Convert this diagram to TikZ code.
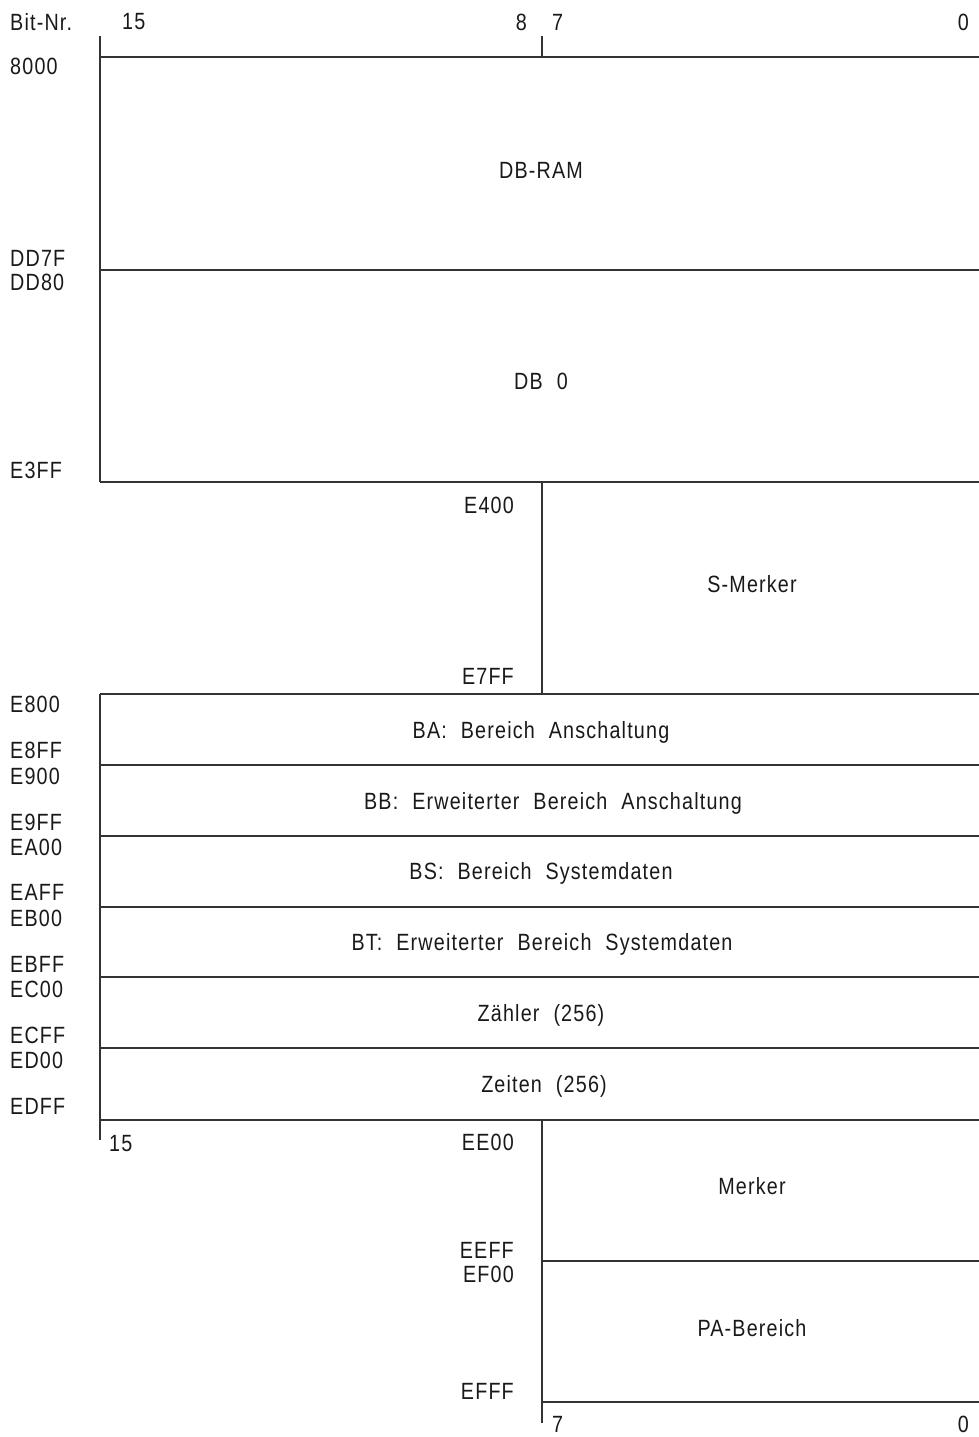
\documentclass[tikz,border=0pt]{standalone}
\usepackage{fontspec}
\setmainfont{Liberation Sans}[FakeStretch=0.84,LetterSpace=5,WordSpace=2.1]
\begin{document}
\begin{tikzpicture}[x=1pt,y=-1pt,
  rule/.style={draw=black!80,line width=1.1pt},
  lbl/.style={font=\fontsize{23.5}{26}\selectfont,inner sep=0pt,text=black!90},
  lft/.style={lbl,anchor=west},
  rgt/.style={lbl,anchor=east},
  mid/.style={lbl,anchor=center}]
\useasboundingbox (0,0) rectangle (979,1437);

% header: bit numbers
\node[lft] (bitnr) at (10,22) {Bit-Nr.};
\node[lft] (b15) at (122,22) {15};
\node[rgt] (b8) at (527,22) {8};
\node[lft] (b7) at (552,22) {7};
\node[rgt] (b0) at (969,22) {0};

% upper block: DB-RAM and DB 0 (16 bit wide)
\draw[rule] (100,36) -- (100,482);
\draw[rule] (542,36) -- (542,57);
\draw[rule] (100,57) -- (979,57);
\draw[rule] (100,270) -- (979,270);
\draw[rule] (100,482) -- (979,482);
\node[mid] (dbram) at (541,170) {DB-RAM};
\node[mid] (db0) at (541,381) {DB 0};
\node[lft] (a8000) at (10,66) {8000};
\node[lft] (aDD7F) at (10,258) {DD7F};
\node[lft] (aDD80) at (10,282) {DD80};
\node[lft] (aE3FF) at (10,470) {E3FF};

% S-Merker (8 bit wide)
\draw[rule] (542,482) -- (542,694);
\node[mid] (smerker) at (752,584) {S-Merker};
\node[rgt] (aE400) at (514,505) {E400};
\node[rgt] (aE7FF) at (514,676) {E7FF};

% middle block of 16 bit wide areas
\draw[rule] (100,694) -- (100,1140);
\foreach \yy in {694,765,836,907,977,1048,1120}
  \draw[rule] (100,\yy) -- (979,\yy);
\node[mid] (ba) at (541,732) {BA: Bereich Anschaltung};
\node[mid] (bb) at (553,803) {BB: Erweiterter Bereich Anschaltung};
\node[mid] (bs) at (541,873) {BS: Bereich Systemdaten};
\node[mid] (bt) at (542,944) {BT: Erweiterter Bereich Systemdaten};
\node[mid] (zaehler) at (541,1015) {Zähler (256)};
\node[mid] (zeiten) at (544,1086) {Zeiten (256)};
\node[lft] (aE800) at (10,704) {E800};
\node[lft] (aE8FF) at (10,750) {E8FF};
\node[lft] (aE900) at (10,776) {E900};
\node[lft] (aE9FF) at (10,822) {E9FF};
\node[lft] (aEA00) at (10,847) {EA00};
\node[lft] (aEAFF) at (10,892) {EAFF};
\node[lft] (aEB00) at (10,918) {EB00};
\node[lft] (aEBFF) at (10,964) {EBFF};
\node[lft] (aEC00) at (10,989) {EC00};
\node[lft] (aECFF) at (10,1035) {ECFF};
\node[lft] (aED00) at (10,1060) {ED00};
\node[lft] (aEDFF) at (10,1106) {EDFF};
\node[lft] (c15) at (109,1144) {15};

% lower block: Merker and PA-Bereich (8 bit wide)
\draw[rule] (542,1120) -- (542,1423);
\draw[rule] (542,1261) -- (979,1261);
\draw[rule] (542,1402) -- (979,1402);
\node[mid] (merker) at (752,1186) {Merker};
\node[mid] (pa) at (752,1328) {PA-Bereich};
\node[rgt] (aEE00) at (514,1142) {EE00};
\node[rgt] (aEEFF) at (514,1250) {EEFF};
\node[rgt] (aEF00) at (514,1274) {EF00};
\node[rgt] (aEFFF) at (514,1391) {EFFF};
\node[lft] (d7) at (552,1424) {7};
\node[rgt] (d0) at (969,1424) {0};
\end{tikzpicture}
\end{document}
